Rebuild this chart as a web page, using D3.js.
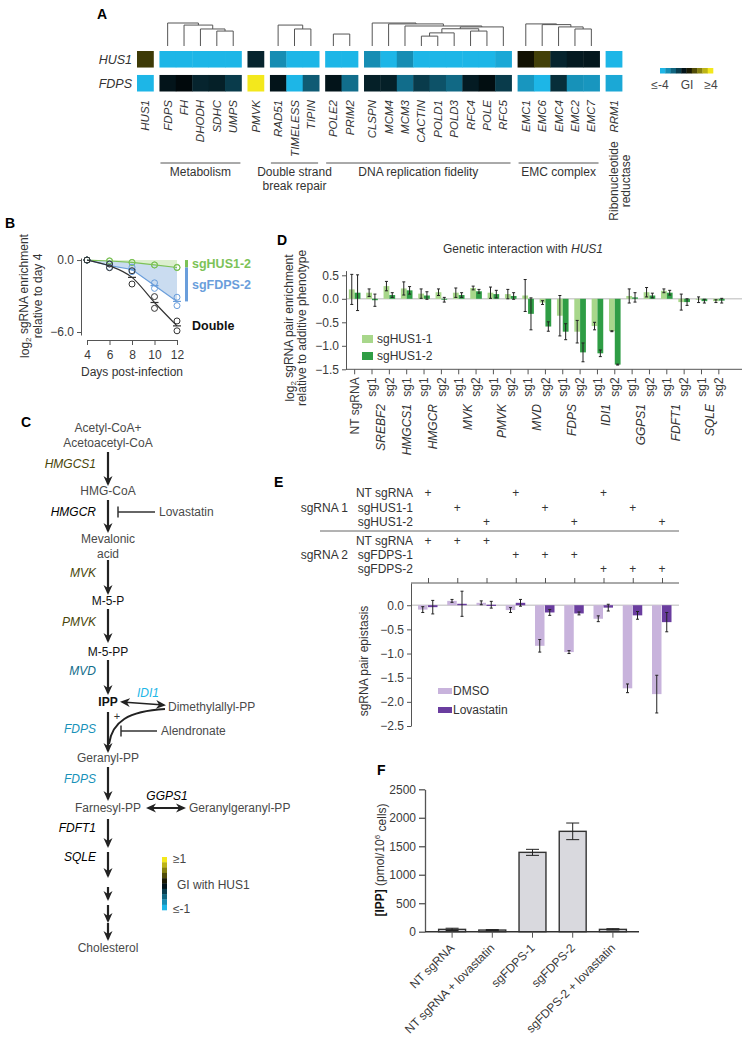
<!DOCTYPE html>
<html lang="en">
<head>
<meta charset="UTF-8">
<title>HUS1 / FDPS genetic interactions</title>
<script src="https://d3js.org/d3.v7.min.js"></script>
<style>
  body { margin: 0; background: #fff; }
  svg { display: block; font-family: "Liberation Sans", Arial, Helvetica, sans-serif; fill: #333; }
  text { font-size: 12px; }
  .plabel { font-size: 14px; font-weight: bold; }
  .axis text { font-size: 12px; fill: #3a3a3a; font-family: "Liberation Sans", Arial, Helvetica, sans-serif; }
  .axis path, .axis line { stroke: #555; }
</style>
</head>
<body>
<svg id="fig" width="748" height="1040"></svg>
<script>
// ---------------- data ----------------
// A: heatmap
const hmGroups = [
  ["HUS1"],
  ["FDPS", "FH", "DHODH", "SDHC", "UMPS"],
  ["PMVK"],
  ["RAD51", "TIMELESS", "TIPIN"],
  ["POLE2", "PRIM2"],
  ["CLSPN", "MCM4", "MCM3", "CACTIN", "POLD1", "POLD3", "RFC4", "POLE", "RFC5"],
  ["EMC1", "EMC6", "EMC4", "EMC2", "EMC7"],
  ["RRM1"]
];
const hmRows = ["HUS1", "FDPS"];
const giHUS1 = [1.0, -4, -4, -4, -4, -4, -0.8, -3.1, -4, -4, -4, -4,
  -3.1, -4, -3.1, -4, -4, -4, -4, -4, -3.7, 0.3, 1.1, -0.8, -0.55, -0.5, -4];
const giFDPS = [-4, -0.45, -0.2, -0.8, -0.7, -1.3, 4, -0.45, -4, -2.0, -0.45, -2.4,
  -0.7, -0.7, -2.4, -1.3, -1.8, -2.3, -0.6, -0.3, -1.3, -3.3, -4, -1.0, -3.2, -3.3, -3.7];
// [linkage height, left, right]
const hmDendro = [
  [1.0, "FDPS", [0.91, "FH", [0.74, "DHODH", [0.65, "SDHC", "UMPS"]]]],
  [0.91, "RAD51", [0.74, "TIMELESS", "TIPIN"]],
  [0.52, "POLE2", "PRIM2"],
  [1.0, "CLSPN", [0.96, "MCM4", [0.87, "MCM3", [0.83, [0.75, [0.57, [0.43, "CACTIN", "POLD1"], "POLD3"], [0.65, "RFC4", "POLE"]], "RFC5"]]]],
  [0.96, "EMC1", [0.93, "EMC6", [0.83, "EMC4", [0.74, "EMC2", "EMC7"]]]]
];
const hmAnnot = [
  { label: ["Metabolism"], from: "FDPS", to: "UMPS" },
  { label: ["Double strand", "break repair"], from: "RAD51", to: "TIPIN" },
  { label: ["DNA replication fidelity"], from: "POLE2", to: "RFC5" },
  { label: ["EMC complex"], from: "EMC1", to: "EMC7" }
];

// B: growth curves
const bDays = [4, 6, 8, 10, 12];
const bHus1Rep1 = [0, -0.06, -0.19, -0.42, -0.64];
const bHus1Rep2 = [0, -0.10, -0.21, -0.40, -0.60];
const bFdpsRep1 = [0, -0.33, -0.60, -1.90, -3.10];
const bFdpsRep2 = [0, -0.61, -0.97, -2.36, -3.80];
const bDoubleRep1 = [0, -0.33, -0.89, -3.05, -5.08];
const bDoubleRep2 = [0, -0.64, -2.00, -4.03, -5.90];

// C: pathway
const pathMetab = [["Acetyl-CoA+", "Acetoacetyl-CoA"], ["HMG-CoA"], ["Mevalonic", "acid"], ["M-5-P"], ["M-5-PP"], ["IPP"], ["Geranyl-PP"], ["Farnesyl-PP"], ["Cholesterol"]];
const pathGenes = ["HMGCS1", "HMGCR", "MVK", "PMVK", "MVD", "FDPS", "FDPS", "FDFT1", "SQLE"];
const pathGeneGI = [0.3, 0, 0.3, 0.3, -0.6, -0.8, -0.8, 0, 0];
const sideGenes = ["IDI1", "GGPS1"];
const sideGeneGI = [-1, 0];

// D: pair enrichment
const dGuides = ["NT sgRNA", "SREBF2 sg1", "SREBF2 sg2", "HMGCS1 sg1", "HMGCR sg1", "HMGCR sg2",
  "MVK sg1", "MVK sg2", "PMVK sg1", "PMVK sg2", "MVD sg1", "MVD sg2", "FDPS sg1", "FDPS sg2",
  "IDI1 sg1", "IDI1 sg2", "GGPS1 sg1", "GGPS1 sg2", "FDFT1 sg1", "FDFT1 sg2", "SQLE sg1", "SQLE sg2"];
const dGenes = ["SREBF2", "HMGCS1", "HMGCR", "MVK", "PMVK", "MVD", "FDPS", "IDI1", "GGPS1", "FDFT1", "SQLE"];
const dHus1_1 = [0.20, 0.13, 0.27, 0.22, 0.11, 0.14, 0.13, 0.23, 0.13, 0.10, 0.07, -0.08,
  -0.36, -0.70, -0.58, -0.69, 0.06, 0.14, 0.17, -0.07, -0.02, -0.05];
const dHus1_1Err = [0.32, 0.08, 0.10, 0.14, 0.10, 0.07, 0.10, 0.04, 0.12, 0.10, 0.34, 0.04,
  0.43, 0.24, 0.08, 0.01, 0.15, 0.10, 0.04, 0.17, 0.06, 0.03];
const dHus1_2 = [0.13, -0.03, 0.08, 0.18, 0.07, -0.02, 0.08, 0.16, 0.10, 0.06, -0.32, -0.59,
  -0.70, -1.14, -1.16, -1.40, 0.03, 0.07, 0.13, -0.07, -0.05, -0.04];
const dHus1_2Err = [0.38, 0.13, 0.05, 0.08, 0.08, 0.05, 0.05, 0.04, 0.08, 0.07, 0.34, 0.10,
  0.17, 0.20, 0.07, 0.01, 0.10, 0.05, 0.05, 0.07, 0.04, 0.05];

// E: epistasis
const eRows1 = ["NT sgRNA", "sgHUS1-1", "sgHUS1-2"];
const eRows2 = ["NT sgRNA", "sgFDPS-1", "sgFDPS-2"];
const eSg1 = ["NT sgRNA", "sgHUS1-1", "sgHUS1-2", "NT sgRNA", "sgHUS1-1", "sgHUS1-2", "NT sgRNA", "sgHUS1-1", "sgHUS1-2"];
const eSg2 = ["NT sgRNA", "NT sgRNA", "NT sgRNA", "sgFDPS-1", "sgFDPS-1", "sgFDPS-1", "sgFDPS-2", "sgFDPS-2", "sgFDPS-2"];
const eDMSO = [-0.09, 0.09, 0.05, -0.10, -0.84, -0.97, -0.28, -1.72, -1.84];
const eDMSOErr = [0.06, 0.03, 0.04, 0.05, 0.13, 0.03, 0.06, 0.09, 0.39];
const eLova = [-0.04, 0.03, 0.01, 0.05, -0.15, -0.17, -0.05, -0.21, -0.35];
const eLovaErr = [0.14, 0.26, 0.07, 0.07, 0.06, 0.03, 0.07, 0.08, 0.20];

// F: IPP levels
const fLabels = ["NT sgRNA", "NT sgRNA + lovastatin", "sgFDPS-1", "sgFDPS-2", "sgFDPS-2 + lovastatin"];
const fValues = [41, 29, 1393, 1762, 41];
const fErr = [20, 8, 53, 146, 12];

// ---------------- drawing ----------------
const svg = d3.select("#fig");

function errBar(g, x, y1, y2, cap, color) {
  g.append("line").attr("x1", x).attr("x2", x).attr("y1", y1).attr("y2", y2)
    .attr("stroke", color || "#222").attr("stroke-width", 1);
  [y1, y2].forEach(y => g.append("line").attr("x1", x - cap).attr("x2", x + cap)
    .attr("y1", y).attr("y2", y).attr("stroke", color || "#222").attr("stroke-width", 1));
}

[["A", 97, 19], ["B", 5, 228], ["C", 21, 427], ["D", 277, 245], ["E", 274, 487], ["F", 377, 775]]
  .forEach(([t, x, y]) => svg.append("text").attr("class", "plabel").attr("fill", "#000")
    .attr("x", x).attr("y", y).text(t));

// ===== A =====
const gA = svg.append("g");
const hmPos = {};
let unit = 0;
hmGroups.forEach(g => { g.forEach(gene => { hmPos[gene] = unit; unit += 1; }); unit += 0.37; });
const hmGenes = hmGroups.flat();
const hmX = d3.scaleLinear().domain([0, unit - 0.37]).range([137, 622]);
const hmW = hmX(1) - hmX(0);
const hmY = d3.scaleBand().domain(hmRows).range([51, 91.5]).paddingInner(0.31);
const giColor = d3.scaleLinear().domain([-4, 0, 4]).range(["#1db6e7", "#000000", "#f3e81c"]).clamp(true);

hmRows.forEach(row => {
  const vals = row === "HUS1" ? giHUS1 : giFDPS;
  gA.append("g").selectAll("rect").data(hmGenes).join("rect")
    .attr("x", g => hmX(hmPos[g]))
    .attr("y", hmY(row))
    .attr("width", hmW + 0.4)
    .attr("height", hmY.bandwidth())
    .attr("fill", (g, i) => giColor(vals[i]));
  gA.append("text").attr("x", 132).attr("y", hmY(row) + hmY.bandwidth() / 2).attr("dy", "0.35em")
    .attr("text-anchor", "end").attr("font-style", "italic").style("font-size", "12.5px").text(row);
});

const dendY = d3.scaleLinear().domain([0, 1]).range([46, 23]);
function drawTree(node) {
  if (typeof node === "string") return { x: hmX(hmPos[node]) + hmW / 2, y: dendY(0) };
  const [h, a, b] = node;
  const l = drawTree(a), r = drawTree(b), y = dendY(h);
  gA.append("path").attr("d", `M${l.x},${l.y}V${y}H${r.x}V${r.y}`)
    .attr("fill", "none").attr("stroke", "#555").attr("stroke-width", 1);
  return { x: (l.x + r.x) / 2, y };
}
hmDendro.forEach(drawTree);

gA.selectAll("text.gene").data(hmGenes).join("text").attr("class", "gene")
  .attr("transform", g => `translate(${hmX(hmPos[g]) + hmW / 2},100) rotate(-90)`)
  .attr("dy", "0.35em").attr("text-anchor", "end").attr("font-style", "italic")
  .style("font-size", "11.5px").text(g => g);

hmAnnot.forEach(a => {
  const x1 = hmX(hmPos[a.from]) + 1, x2 = hmX(hmPos[a.to]) + hmW - 1;
  gA.append("line").attr("x1", x1).attr("x2", x2).attr("y1", 163).attr("y2", 163).attr("stroke", "#555");
  a.label.forEach((t, i) => gA.append("text").attr("x", (x1 + x2) / 2).attr("y", 176 + i * 14)
    .attr("text-anchor", "middle").text(t));
});
["Ribonucleotide", "reductase"].forEach((t, i) =>
  gA.append("text").attr("transform", `translate(${618 + i * 12},181) rotate(-90)`)
    .attr("text-anchor", "middle").text(t));

// GI legend
const legA = d3.range(10).map(i => -4 + i * 8 / 9);
const legAX = d3.scaleBand().domain(d3.range(10)).range([660, 713]);
gA.selectAll("rect.leg").data(legA).join("rect").attr("class", "leg")
  .attr("x", (d, i) => legAX(i)).attr("y", 68).attr("width", legAX.bandwidth() + 0.3).attr("height", 5.5)
  .attr("fill", d => giColor(d));
[["≤-4", 660], ["GI", 687], ["≥4", 711]].forEach(([t, x]) =>
  gA.append("text").attr("x", x).attr("y", 89).attr("text-anchor", "middle").attr("fill", "#444").text(t));

// ===== B =====
const gB = svg.append("g");
const bX = d3.scaleLinear().domain([4, 12]).range([87, 177]);
const bY = d3.scaleLinear().domain([-6.25, 0.17]).range([335, 258]);
const mean = (a, b) => a.map((v, i) => (v + b[i]) / 2);
const hus1Mean = mean(bHus1Rep1, bHus1Rep2);
const fdpsMean = mean(bFdpsRep1, bFdpsRep2);
const doubleMean = mean(bDoubleRep1, bDoubleRep2);

gB.append("path").datum(bDays).attr("fill", "#dcefcf")
  .attr("d", d3.area().x(d => bX(d)).y0(bY(0)).y1((d, i) => bY(hus1Mean[i])));
gB.append("path").datum(bDays).attr("fill", "#cadcf0")
  .attr("d", d3.area().x(d => bX(d)).y0((d, i) => bY(hus1Mean[i])).y1((d, i) => bY(fdpsMean[i])));

const bSeries = [
  { reps: [bHus1Rep1, bHus1Rep2], m: hus1Mean, color: "#7cc257", curve: d3.curveLinear, dash: false },
  { reps: [bFdpsRep1, bFdpsRep2], m: fdpsMean, color: "#6a9edb", curve: d3.curveLinear, dash: true },
  { reps: [bDoubleRep1, bDoubleRep2], m: doubleMean, color: "#333", curve: d3.curveMonotoneX, dash: true }
];
bSeries.forEach(s => {
  gB.append("path").datum(bDays).attr("fill", "none").attr("stroke", s.color).attr("stroke-width", 1.2)
    .attr("d", d3.line().x(d => bX(d)).y((d, i) => bY(s.m[i])).curve(s.curve));
  s.reps.forEach(r => gB.append("g").selectAll("circle").data(bDays).join("circle")
    .attr("cx", d => bX(d)).attr("cy", (d, i) => bY(r[i])).attr("r", 3)
    .attr("fill", "none").attr("stroke", s.color).attr("stroke-width", 1));
  if (s.dash) bDays.forEach((d, i) => {
    if (d >= 8) gB.append("line").attr("x1", bX(d) - 4).attr("x2", bX(d) + 4)
      .attr("y1", bY(s.m[i])).attr("y2", bY(s.m[i])).attr("stroke", s.color).attr("stroke-width", 1.2);
  });
});

gB.append("g").attr("class", "axis").attr("transform", "translate(81,0)")
  .call(d3.axisLeft(bY).tickValues([0, -6]).tickFormat(d3.format(".1f")).tickSize(4).tickSizeOuter(0));
gB.append("g").attr("class", "axis").attr("transform", "translate(0,340)")
  .call(d3.axisBottom(bX).tickValues(bDays).tickSize(5).tickSizeOuter(0))
  .call(g => g.selectAll("text").attr("y", 10));
gB.append("text").attr("x", 132).attr("y", 376).attr("text-anchor", "middle").text("Days post-infection");
const bYl = gB.append("text").attr("transform", "translate(29,296) rotate(-90)").attr("text-anchor", "middle");
bYl.append("tspan").text("log");
bYl.append("tspan").attr("dy", "0.3em").style("font-size", "8px").text("2");
bYl.append("tspan").attr("dy", "-0.3em").text(" sgRNA enrichment");
gB.append("text").attr("transform", "translate(42,296) rotate(-90)").attr("text-anchor", "middle").text("relative to day 4");

// legend bars follow day-12 effects
const last = bDays.length - 1;
gB.append("rect").attr("x", 185).attr("width", 3).attr("y", bY(0)).attr("height", bY(hus1Mean[last]) - bY(0)).attr("fill", "#7cc257");
gB.append("rect").attr("x", 185).attr("width", 3).attr("y", bY(hus1Mean[last])).attr("height", bY(fdpsMean[last]) - bY(hus1Mean[last])).attr("fill", "#6a9edb");
[["sgHUS1-2", (bY(0) + bY(hus1Mean[last])) / 2, "#7cc257"],
 ["sgFDPS-2", (bY(hus1Mean[last]) + bY(fdpsMean[last])) / 2, "#6a9edb"],
 ["Double", bY(doubleMean[last]), "#111"]].forEach(([t, y, c]) =>
  gB.append("text").attr("x", 192).attr("y", y).attr("dy", "0.35em").attr("font-weight", "bold")
    .style("font-size", "12.5px").attr("fill", c).text(t));

// ===== C =====
const gC = svg.append("g");
const giColorC = d3.scaleLinear().domain([-1, 0, 1]).range(["#1db6e7", "#000000", "#f3e81c"]).clamp(true);
const cx = 108;
// diagram layout
const metabY = [428, 491, 539, 601, 652, 702, 758, 808, 948];
const geneY = [464, 512, 573, 622, 671, 729, 779, 828, 857];
const arrowY = [[452, 484], [500, 531], [560, 593], [609, 641], [660, 693], [712, 751], [767, 799],
  [819, 846], [852, 876], [887, 899], [905, 921], [923, 939]];

const defs = svg.append("defs");
defs.append("marker").attr("id", "ah").attr("viewBox", "0 0 10 10").attr("refX", 8).attr("refY", 5)
  .attr("markerWidth", 10).attr("markerHeight", 10).attr("markerUnits", "userSpaceOnUse")
  .attr("orient", "auto-start-reverse")
  .append("path").attr("d", "M0,0.5 L10,5 L0,9.5 L3,5 Z").attr("fill", "#222");

pathMetab.forEach((lines, i) => lines.forEach((t, j) =>
  gC.append("text").attr("x", cx).attr("y", metabY[i] + j * 15).attr("dy", "0.35em").attr("text-anchor", "middle")
    .attr("font-weight", t === "IPP" ? "bold" : null)
    .attr("fill", t === "IPP" || t.startsWith("M-5") ? "#111" : "#4a4a4a").text(t)));
arrowY.forEach(([y1, y2]) => gC.append("line").attr("x1", cx).attr("x2", cx).attr("y1", y1).attr("y2", y2)
  .attr("stroke", "#222").attr("stroke-width", 2.2).attr("marker-end", "url(#ah)"));
pathGenes.forEach((g, i) => gC.append("text").attr("x", 96).attr("y", geneY[i]).attr("dy", "0.35em")
  .attr("text-anchor", "end").attr("font-style", "italic").attr("fill", giColorC(pathGeneGI[i])).text(g));

// inhibitors
[["Lovastatin", 118, 512, 155], ["Alendronate", 121, 731, 157]].forEach(([t, x, y, x2]) => {
  gC.append("line").attr("x1", x).attr("x2", x).attr("y1", y - 5.5).attr("y2", y + 5.5).attr("stroke", "#333").attr("stroke-width", 1.5);
  gC.append("line").attr("x1", x).attr("x2", x2).attr("y1", y).attr("y2", y).attr("stroke", "#333").attr("stroke-width", 1.3);
  gC.append("text").attr("x", x2 + 4).attr("y", y).attr("dy", "0.35em").attr("fill", "#4a4a4a").text(t);
});
// IPP <-> DMAPP
gC.append("line").attr("x1", 122).attr("y1", 702).attr("x2", 164).attr("y2", 705).attr("stroke", "#222").attr("stroke-width", 1.3)
  .attr("marker-start", "url(#ah)").attr("marker-end", "url(#ah)");
gC.append("text").attr("x", 148).attr("y", 693).attr("dy", "0.35em").attr("text-anchor", "middle")
  .attr("font-style", "italic").attr("fill", giColorC(sideGeneGI[0])).text(sideGenes[0]);
gC.append("text").attr("x", 168).attr("y", 707).attr("dy", "0.35em").attr("fill", "#4a4a4a").text("Dimethylallyl-PP");
gC.append("path").attr("d", "M165,709 C128,711 112,722 109,744").attr("fill", "none").attr("stroke", "#222").attr("stroke-width", 2);
gC.append("text").attr("x", 117).attr("y", 716).attr("dy", "0.35em").attr("text-anchor", "middle").style("font-size", "11px").text("+");
// FPP <-> GGPP
gC.append("line").attr("x1", 148).attr("x2", 184).attr("y1", 808).attr("y2", 808).attr("stroke", "#222").attr("stroke-width", 2)
  .attr("marker-start", "url(#ah)").attr("marker-end", "url(#ah)");
gC.append("text").attr("x", 167).attr("y", 796).attr("dy", "0.35em").attr("text-anchor", "middle")
  .attr("font-style", "italic").attr("fill", giColorC(sideGeneGI[1])).text(sideGenes[1]);
gC.append("text").attr("x", 189).attr("y", 808).attr("dy", "0.35em").attr("fill", "#4a4a4a").text("Geranylgeranyl-PP");

// colour bar
const legC = d3.range(10).map(i => 1 - i * 2 / 9);
const legCY = d3.scaleBand().domain(d3.range(10)).range([857, 910]);
gC.selectAll("rect.leg").data(legC).join("rect").attr("class", "leg")
  .attr("x", 162).attr("y", (d, i) => legCY(i)).attr("width", 5).attr("height", legCY.bandwidth() + 0.3)
  .attr("fill", d => giColorC(d));
[["≥1", 173, 859], ["GI with HUS1", 177, 885], ["≤-1", 173, 909]].forEach(([t, x, y]) =>
  gC.append("text").attr("x", x).attr("y", y).attr("dy", "0.35em").attr("fill", "#444").text(t));

// ===== D =====
const gD = svg.append("g");
const dX = d3.scaleBand().domain(dGuides).range([346, 727.5]);
const dY = d3.scaleLinear().domain([-1.5, 0.6]).range([369.3, 270.6]);
gD.append("line").attr("x1", 346).attr("x2", 742).attr("y1", dY(0)).attr("y2", dY(0)).attr("stroke", "#d0d0d0").attr("stroke-width", 1.5);
const dBars = [
  { v: dHus1_1, e: dHus1_1Err, color: "#a8d78b", off: -5.8 },
  { v: dHus1_2, e: dHus1_2Err, color: "#2f9d45", off: 0 }
];
dBars.forEach(s => {
  gD.append("g").selectAll("rect").data(dGuides).join("rect")
    .attr("x", g => dX(g) + dX.bandwidth() / 2 + s.off).attr("width", 5.8)
    .attr("y", (g, i) => dY(Math.max(0, s.v[i]))).attr("height", (g, i) => Math.abs(dY(s.v[i]) - dY(0)))
    .attr("fill", s.color);
});
dBars.forEach(s => dGuides.forEach((g, i) =>
  errBar(gD, dX(g) + dX.bandwidth() / 2 + s.off + 2.9, dY(s.v[i] - s.e[i]), dY(s.v[i] + s.e[i]), 1.5)));

gD.append("g").attr("class", "axis").attr("transform", "translate(346,0)")
  .call(d3.axisLeft(dY).tickValues([0.5, 0, -0.5, -1, -1.5]).tickFormat(d3.format(".1f")).tickSize(4).tickSizeOuter(0));
gD.append("g").attr("class", "axis").attr("transform", `translate(0,${dY(-1.5)})`)
  .call(d3.axisBottom(dX).tickSize(5).tickSizeOuter(0).tickFormat(d => d === "NT sgRNA" ? d : d.split(" ")[1]))
  .call(g => g.select(".domain").remove())
  .call(g => g.selectAll("text").attr("transform", "rotate(-90)").attr("x", -8).attr("y", 0)
    .attr("dy", "0.35em").attr("text-anchor", "end"));
gD.append("line").attr("x1", 346).attr("x2", 742).attr("y1", dY(-1.5)).attr("y2", dY(-1.5)).attr("stroke", "#555");
dGenes.forEach(gene => {
  const xs = dGuides.filter(g => g.startsWith(gene + " ")).map(g => dX(g) + dX.bandwidth() / 2);
  gD.append("text").attr("transform", `translate(${d3.mean(xs)},404) rotate(-90)`).attr("dy", "0.35em")
    .attr("text-anchor", "end").attr("font-style", "italic").text(gene);
});
const dTitle = gD.append("text").attr("x", 523).attr("y", 253).attr("text-anchor", "middle");
dTitle.append("tspan").text("Genetic interaction with ");
dTitle.append("tspan").attr("font-style", "italic").text("HUS1");
const dYl = gD.append("text").attr("transform", "translate(294,328) rotate(-90)").attr("text-anchor", "middle");
dYl.append("tspan").text("log");
dYl.append("tspan").attr("dy", "0.3em").style("font-size", "8px").text("2");
dYl.append("tspan").attr("dy", "-0.3em").text(" sgRNA pair enrichment");
gD.append("text").attr("transform", "translate(306,328) rotate(-90)").attr("text-anchor", "middle").text("relative to additive phenotype");
[["sgHUS1-1", dBars[0].color, 339], ["sgHUS1-2", dBars[1].color, 356]].forEach(([t, c, y]) => {
  gD.append("rect").attr("x", 362).attr("y", y - 4).attr("width", 11).attr("height", 8).attr("fill", c);
  gD.append("text").attr("x", 377).attr("y", y).attr("dy", "0.35em").text(t);
});

// ===== E =====
const gE = svg.append("g");
const eX = d3.scalePoint().domain(d3.range(9)).range([428, 662]);
const eRowY1 = d3.scalePoint().domain(eRows1).range([493, 522]);
const eRowY2 = d3.scalePoint().domain(eRows2).range([541, 569]);
eRows1.forEach(r => gE.append("text").attr("x", 413).attr("y", eRowY1(r)).attr("dy", "0.35em").attr("text-anchor", "end").text(r));
eRows2.forEach(r => gE.append("text").attr("x", 413).attr("y", eRowY2(r)).attr("dy", "0.35em").attr("text-anchor", "end").text(r));
gE.append("text").attr("x", 348).attr("y", eRowY1(eRows1[1])).attr("dy", "0.35em").attr("text-anchor", "end").text("sgRNA 1");
gE.append("text").attr("x", 348).attr("y", eRowY2(eRows2[1])).attr("dy", "0.35em").attr("text-anchor", "end").text("sgRNA 2");
gE.append("line").attr("x1", 320).attr("x2", 679).attr("y1", 531).attr("y2", 531).attr("stroke", "#666");
d3.range(9).forEach(i => {
  gE.append("text").attr("x", eX(i)).attr("y", eRowY1(eSg1[i])).attr("dy", "0.35em").attr("text-anchor", "middle").text("+");
  gE.append("text").attr("x", eX(i)).attr("y", eRowY2(eSg2[i])).attr("dy", "0.35em").attr("text-anchor", "middle").text("+");
});
const eY = d3.scaleLinear().domain([-2.5, 0.46]).range([726, 583]);
gE.append("line").attr("x1", 411).attr("x2", 679).attr("y1", eY(0)).attr("y2", eY(0)).attr("stroke", "#d0d0d0").attr("stroke-width", 1.5);
const eBars = [
  { v: eDMSO, e: eDMSOErr, color: "#c8b3dc", off: -10, name: "DMSO" },
  { v: eLova, e: eLovaErr, color: "#6a3d9f", off: 0, name: "Lovastatin" }
];
eBars.forEach(s => gE.append("g").selectAll("rect").data(d3.range(9)).join("rect")
  .attr("x", i => eX(i) + s.off).attr("width", 9.5)
  .attr("y", i => eY(Math.max(0, s.v[i]))).attr("height", i => Math.max(1.2, Math.abs(eY(s.v[i]) - eY(0))))
  .attr("fill", s.color));
eBars.forEach(s => d3.range(9).forEach(i =>
  errBar(gE, eX(i) + s.off + 4.75, eY(s.v[i] - s.e[i]), eY(s.v[i] + s.e[i]), 1.5)));
gE.append("g").attr("class", "axis").attr("transform", "translate(411,0)")
  .call(d3.axisLeft(eY).tickValues([0, -0.5, -1, -1.5, -2, -2.5]).tickFormat(d3.format(".1f")).tickSize(4).tickSizeOuter(0));
gE.append("line").attr("x1", 411).attr("x2", 679).attr("y1", 583).attr("y2", 583).attr("stroke", "#555");
gE.append("g").attr("class", "axis").attr("transform", "translate(0,583)")
  .call(d3.axisTop(eX).tickSize(5).tickFormat(""))
  .call(g => g.select(".domain").remove());
gE.append("text").attr("transform", "translate(368,661) rotate(-90)").attr("text-anchor", "middle").text("sgRNA pair epistasis");
eBars.forEach((s, k) => {
  const y = 691 + k * 19;
  gE.append("rect").attr("x", 438).attr("y", y - 3).attr("width", 14).attr("height", 6).attr("fill", s.color);
  gE.append("text").attr("x", 453).attr("y", y).attr("dy", "0.35em").text(s.name);
});

// ===== F =====
const gF = svg.append("g");
const fX = d3.scaleBand().domain(fLabels).range([432, 633]).paddingInner(0.33).paddingOuter(0.165);
const fY = d3.scaleLinear().domain([0, 2500]).range([931.7, 789.3]);
gF.selectAll("rect").data(fLabels).join("rect")
  .attr("x", d => fX(d)).attr("width", fX.bandwidth())
  .attr("y", (d, i) => fY(fValues[i])).attr("height", (d, i) => fY(0) - fY(fValues[i]))
  .attr("fill", "#d9d9de").attr("stroke", "#333").attr("stroke-width", 1.4);
fLabels.forEach((d, i) => errBar(gF, fX(d) + fX.bandwidth() / 2, fY(fValues[i] - fErr[i]), fY(fValues[i] + fErr[i]), 6.5, "#222"));
gF.append("g").attr("class", "axis").attr("transform", "translate(425,0)")
  .call(d3.axisLeft(fY).tickValues([0, 500, 1000, 1500, 2000, 2500]).tickFormat(d3.format("d")).tickSize(6).tickSizeOuter(0))
  .call(g => g.selectAll("line,path").attr("stroke-width", 1.3));
gF.append("line").attr("x1", 425).attr("x2", 639).attr("y1", fY(0)).attr("y2", fY(0)).attr("stroke", "#333").attr("stroke-width", 1.4);
gF.append("g").attr("class", "axis").attr("transform", `translate(0,${fY(0)})`)
  .call(d3.axisBottom(fX).tickSize(6))
  .call(g => g.select(".domain").remove())
  .call(g => g.selectAll("text").attr("transform", "rotate(-45)").attr("x", -10).attr("y", 10)
    .attr("dy", "0.35em").attr("text-anchor", "end"));
const fYl = gF.append("text").attr("transform", "translate(384,860) rotate(-90)").attr("text-anchor", "middle");
fYl.append("tspan").attr("font-weight", "bold").attr("fill", "#111").text("[IPP]");
fYl.append("tspan").text(" (pmol/10");
fYl.append("tspan").attr("dy", "-0.45em").style("font-size", "8px").text("6");
fYl.append("tspan").attr("dy", "0.45em").text(" cells)");
</script>
</body>
</html>
